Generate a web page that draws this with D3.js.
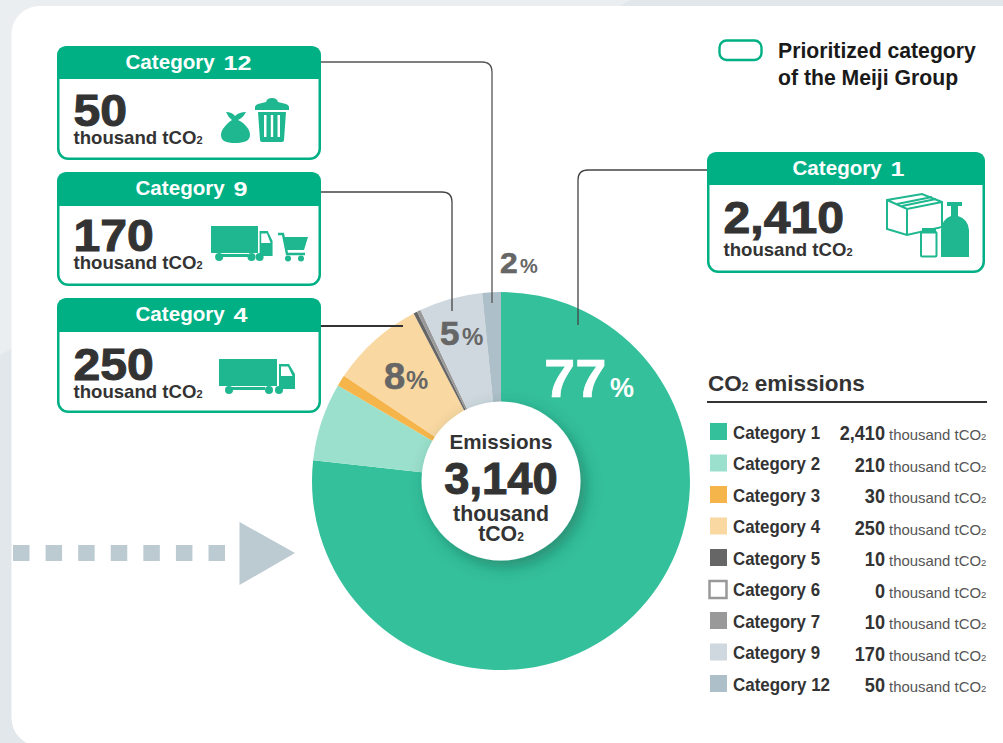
<!DOCTYPE html>
<html>
<head>
<meta charset="utf-8">
<script src="https://cdn.jsdelivr.net/npm/d3@7"></script>
<style>
html, body { margin: 0; padding: 0; background: #fff; overflow: hidden; }
svg { display: block; }
text { font-family: "Liberation Sans", Arial, sans-serif; font-weight: bold; }
</style>
</head>
<body>
<div id="chart"></div>
<script>
var categories = ["Category 1", "Category 2", "Category 3", "Category 4", "Category 5", "Category 6", "Category 7", "Category 9", "Category 12"];
var emissions = [2410, 210, 30, 250, 10, 0, 10, 170, 50];
var colors = ["#34c09b", "#9be0cc", "#f5b54a", "#fad8a2", "#666666", "#ffffff", "#999999", "#cfd8de", "#adbfc8"];
var totalEmissions = 3140;
var unit = "thousand tCO";

var width = 1003, height = 743;
var green = "#00b085", iconGreen = "#1fb78f", dark = "#333333";
var fmt = d3.format(",");

var svg = d3.select("#chart").append("svg").attr("width", width).attr("height", height);

// page background and white panel
svg.append("rect").attr("width", width).attr("height", height).attr("fill", "#e2e7eb");
svg.append("path").attr("d", "M0,0H630L610,12L0,355Z").attr("fill", "#ebeef1");
svg.append("rect").attr("x", 11.5).attr("y", 6).attr("width", 1040).attr("height", 740).attr("rx", 28).attr("fill", "#fff");

var defs = svg.append("defs");
var shadow = defs.append("filter").attr("id", "hubShadow").attr("x", "-30%").attr("y", "-30%").attr("width", "170%").attr("height", "170%");
shadow.append("feDropShadow").attr("dx", 5).attr("dy", 6).attr("stdDeviation", 8).attr("flood-color", "#15503f").attr("flood-opacity", 0.45);

// the pie
var cx = 501, cy = 481, radius = 189, hubRadius = 79.5;
var pie = d3.pie().sort(null).value(function (d) { return d; });
var arc = d3.arc().innerRadius(0).outerRadius(radius);
var g = svg.append("g").attr("transform", "translate(" + cx + "," + cy + ")");
g.selectAll("path").data(pie(emissions)).enter().append("path")
    .attr("d", arc)
    .attr("fill", function (d, i) { return colors[i]; });
g.append("circle").attr("r", hubRadius).attr("fill", "#fff").attr("filter", "url(#hubShadow)");

function subText(sel, subSize) {
    sel.append("tspan").attr("font-size", subSize).text("2");
}

function addText(parent, x, y, str, size, fill, anchor) {
    return parent.append("text").attr("x", x).attr("y", y).attr("font-size", size)
        .attr("fill", fill).attr("text-anchor", anchor || "start").text(str);
}

// the big numbers are wider and heavier than the plain font
function bigText(parent, x, y, str, size, sx, fill, anchor, stroke) {
    return parent.append("text").attr("transform", "translate(" + x + "," + y + ") scale(" + sx + ",1)")
        .attr("font-size", size).attr("fill", fill).attr("text-anchor", anchor || "start")
        .attr("stroke", fill).attr("stroke-width", stroke).text(str);
}

addText(svg, cx, 449, "Emissions", 20.6, dark, "middle");
bigText(svg, cx, 494, fmt(totalEmissions), 44, 1.03, dark, "middle", 1);
addText(svg, cx, 521, "thousand", 21.3, dark, "middle");
addText(svg, cx, 541, "tCO", 21.3, dark, "middle").call(subText, 12);

// percent labels
function percent(x, y, val, size, pctX, pctSize, fill) {
    bigText(svg, x, y, val, size, 1.06, fill, "start", 0.6);
    addText(svg, pctX, y, "%", pctSize, fill);
}
percent(544, 397, "77", 53, 610, 27, "#fff");
percent(384, 389, "8", 36, 406, 25, "#666");
percent(440, 345, "5", 33, 462, 24, "#666");
percent(500, 273, "2", 30, 520, 20, "#666");

// leader lines
var lineRound = 10;
function leader(p, color, w) {
    var d = "M" + p[0][0] + "," + p[0][1];
    if (p.length === 3) {
        var dir = p[1][0] > p[0][0] ? 1 : -1;
        d += "L" + (p[1][0] - dir * lineRound) + "," + p[0][1];
        d += "Q" + p[1][0] + "," + p[0][1] + " " + p[1][0] + "," + (p[1][1] + lineRound);
        d += "L" + p[2][0] + "," + p[2][1];
    } else {
        d += "L" + p[1][0] + "," + p[1][1];
    }
    svg.append("path").attr("d", d).attr("fill", "none").attr("stroke", color).attr("stroke-width", w);
}
leader([[321, 62], [492, 62], [492, 303]], "#555", 1.3);
leader([[321, 192], [452, 192], [452, 311]], "#444", 1.3);
leader([[321, 326], [403, 326]], "#333", 1.8);
leader([[707, 170], [578, 170], [578, 325]], "#444", 1.3);

// cards
function card(x, y, w, h, headH, digits, numY, unitY) {
    var c = svg.append("g");
    c.append("rect").attr("x", x + 1.25).attr("y", y + 1.25).attr("width", w - 2.5).attr("height", h - 2.5)
        .attr("rx", 10).attr("fill", "#fff").attr("stroke", green).attr("stroke-width", 2.5);
    c.append("path").attr("fill", green).attr("d",
        "M" + x + "," + (y + headH) + "V" + (y + 10) + "Q" + x + "," + y + " " + (x + 10) + "," + y +
        "H" + (x + w - 10) + "Q" + (x + w) + "," + y + " " + (x + w) + "," + (y + 10) + "V" + (y + headH) + "Z");
    // title word and its wide digit are set apart
    var digitW = digits.length * 14;
    var titleX = x + w / 2 - (99 + digitW) / 2 + (digits.length === 1 ? 3 : 0);
    addText(c, titleX, y + 23, "Category", 20.6, "#fff");
    addText(c, titleX + 98, y + 23.5, digits, 20.5, "#fff")
        .attr("textLength", digitW).attr("lengthAdjust", "spacingAndGlyphs");
    var i = categories.indexOf("Category " + digits);
    bigText(c, x + 16.5, numY, fmt(emissions[i]), 45, 1.07, dark, "start", 1);
    addText(c, x + 16.5, unitY, unit, 18.6, dark).call(subText, 11);
}
card(57, 46, 264, 114, 33, "12", 126, 144);
card(57, 172, 264, 114, 34, "9", 251, 269);
card(57, 298, 264, 115, 34, "4", 380, 398);
card(707, 152, 278, 121, 33, "1", 233, 256);

// card icons
function truck(x, y, sx) {
    var t = svg.append("g").attr("fill", iconGreen);
    var body = t.append("g").attr("transform", "translate(" + x + "," + y + ") scale(" + sx + ",1)");
    body.append("rect").attr("width", 58).attr("height", 27);
    body.append("path").attr("fill-rule", "evenodd").attr("d", "M60,5H70L76,15V30H60ZM62,7.5V17H73.5L69,7.5Z");
    body.append("rect").attr("x", 12).attr("y", 28).attr("width", 34).attr("height", 3);
    [10, 50, 60].forEach(function (wx) {
        t.append("circle").attr("cx", x + wx * sx).attr("cy", y + 31).attr("r", 4);
    });
}
truck(219, 359, 1);
truck(211, 226, 0.81);

// cart
var cart = svg.append("g").attr("transform", "translate(278,233)");
cart.append("path").attr("fill", "none").attr("stroke", iconGreen).attr("stroke-width", 2.4).attr("d", "M0,1H5L9,21H27");
cart.append("path").attr("fill", iconGreen).attr("d", "M6,4H30L26,17H9Z");
cart.append("circle").attr("cx", 10).attr("cy", 25.5).attr("r", 3).attr("fill", iconGreen);
cart.append("circle").attr("cx", 23).attr("cy", 25.5).attr("r", 3).attr("fill", iconGreen);

// bag and bin
var bag = svg.append("g").attr("fill", iconGreen);
bag.append("path").attr("d", "M226,112Q232,112 235,116Q239,112 246,112Q243,118 238,120C246,124 250,130 250,135C250,141 244,143 235,143C226,143 221,141 221,135C221,130 226,124 232,120Q228,117 226,112Z");
bag.append("path").attr("d", "M255,110V107Q255,105 258,104L266,102Q267,98 272,98Q277,98 278,102L286,104Q289,105 289,107V110Z");
bag.append("path").attr("fill-rule", "evenodd").attr("d", "M258,112H286L284,140Q284,142 282,142H262Q260,142 260,140ZM264,115H266.5V137H264ZM270.8,115H273.2V137H270.8ZM277.5,115H280V137H277.5Z");

// box, jar and bottle
var box = svg.append("g").attr("fill", "none").attr("stroke", iconGreen).attr("stroke-width", 2);
box.append("path").attr("d", "M887,200L922,194L942,202V227L907,235L887,229ZM887,200L907,209L942,202M907,209V235M897,204L932,197M902,206L936,199");
box.append("rect").attr("x", 921).attr("y", 232).attr("width", 15.5).attr("height", 24.5).attr("rx", 1).attr("fill", "#fff");
box.append("rect").attr("x", 923).attr("y", 229).attr("width", 12).attr("height", 3.5).attr("fill", iconGreen);
svg.append("path").attr("fill", iconGreen).attr("d", "M947,202H962V206H958V216Q968,219 969,230V257H941V230Q942,219 951,216V206H947Z");

// prioritized key
svg.append("rect").attr("x", 719.5).attr("y", 40.5).attr("width", 42).attr("height", 19.5).attr("rx", 7)
    .attr("fill", "#fff").attr("stroke", green).attr("stroke-width", 2.4);
addText(svg, 778, 58, "Prioritized category", 21.2, "#1a1a1a");
addText(svg, 778, 85, "of the Meiji Group", 21.2, "#1a1a1a");

// dotted arrow
var arrowStops = d3.range(7);
var arrowX = d3.scaleLinear().domain([0, 6]).range([13, 208.5]);
svg.selectAll(".dot").data(arrowStops).enter().append("rect").attr("class", "dot")
    .attr("x", function (d) { return arrowX(d); }).attr("y", 545)
    .attr("width", 16.5).attr("height", 16).attr("fill", "#bccbd2");
svg.append("path").attr("d", "M239.5,522L295,553L239.5,585Z").attr("fill", "#bccbd2");

// legend table
addText(svg, 708, 391, "CO", 22.5, dark).call(function (t) {
    t.append("tspan").attr("font-size", 12).text("2");
    t.append("tspan").text(" emissions");
});
svg.append("rect").attr("x", 707).attr("y", 401).attr("width", 280).attr("height", 2).attr("fill", dark);

var rowY = d3.scaleLinear().domain([0, categories.length - 1]).range([423, 675]);
var rows = svg.selectAll(".row").data(categories).enter().append("g").attr("class", "row")
    .attr("transform", function (d, i) { return "translate(0," + rowY(i) + ")"; });
rows.append("rect")
    .attr("x", function (d, i) { return i === 5 ? 709.5 : 710; })
    .attr("y", function (d, i) { return i === 5 ? 0.5 : 0; })
    .attr("width", 17)
    .attr("height", 17)
    .attr("fill", function (d, i) { return colors[i]; })
    .attr("stroke", function (d, i) { return i === 5 ? "#999" : "none"; })
    .attr("stroke-width", 2.5);
rows.append("text").attr("x", 733).attr("y", 15.5).attr("font-size", 19).attr("fill", dark)
    .attr("textLength", function (d) { return d === "Category 12" ? 97 : 87; })
    .attr("lengthAdjust", "spacingAndGlyphs")
    .text(function (d) { return d; });
rows.append("text").attr("transform", "translate(885,17) scale(0.93,1)")
    .attr("font-size", 19.5).attr("fill", dark).attr("text-anchor", "end")
    .text(function (d, i) { return fmt(emissions[i]); });
rows.append("text").attr("x", 889).attr("y", 17).attr("font-size", 15).attr("fill", "#555").style("font-weight", "normal")
    .attr("textLength", 92).attr("lengthAdjust", "spacingAndGlyphs")
    .text(unit);
rows.append("text").attr("x", 981).attr("y", 17).attr("font-size", 9.5).attr("fill", "#555").style("font-weight", "normal").text("2");
</script>
</body>
</html>
